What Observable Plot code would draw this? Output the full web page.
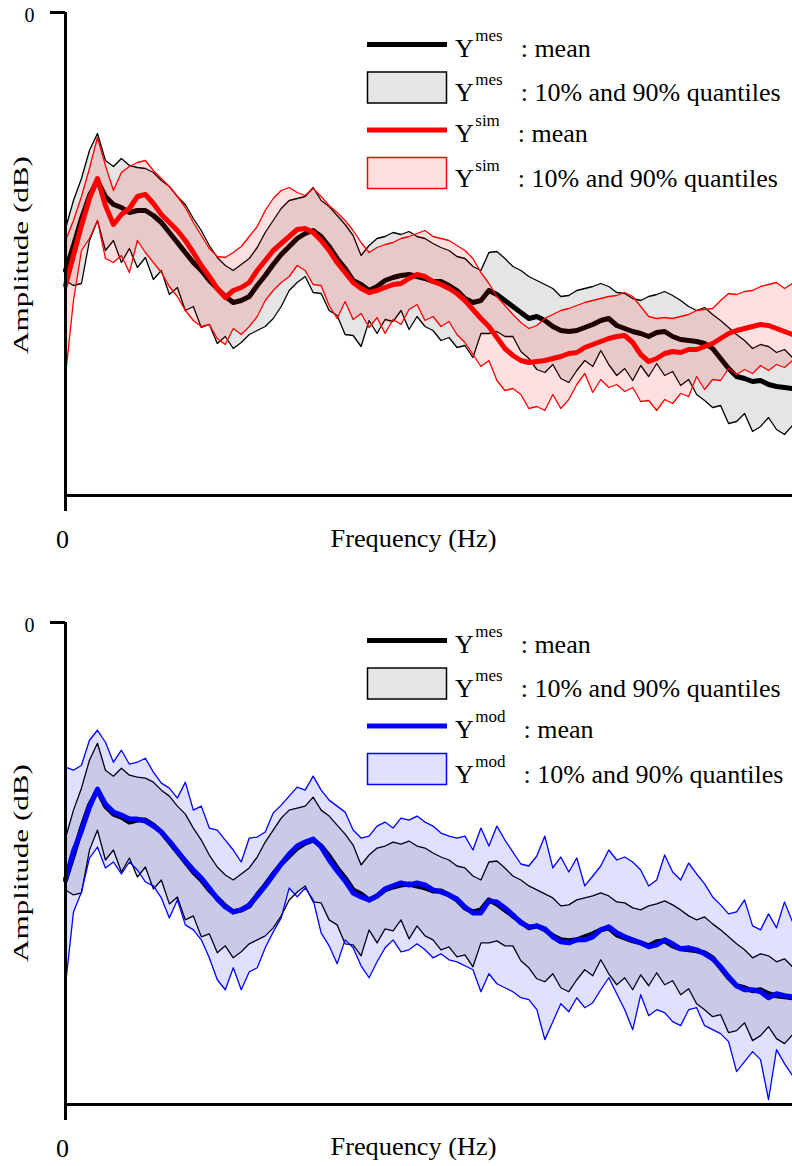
<!DOCTYPE html>
<html>
<head>
<meta charset="utf-8">
<script src="https://cdn.jsdelivr.net/npm/d3@7"></script>
<script src="https://cdn.jsdelivr.net/npm/@observablehq/plot@0.6"></script>
<style>
  body { margin: 0; background: #fff; }
  #wrap { position: relative; width: 792px; height: 1166px; overflow: hidden; font-family: "Liberation Serif", "Times New Roman", serif; }
  #wrap > svg { display: block; }
  #overlay { position: absolute; left: 0; top: 0; }
</style>
</head>
<body>
<div id="wrap"></div>
<script>
// Frequency grid (arbitrary Hz units, uniform sampling)
const freq = d3.range(92).map(i => i * 0.25);

// Measured response Y^mes (dB)
const mesMean = [
-51.6,-46.6,-41.2,-36.6,-33.6,-36.8,-38.4,-39,-40,-39.6,
-39.6,-40.6,-42,-44,-46,-48,-50,-51.6,-53.6,-55.2,
-56.8,-58,-57.6,-56.8,-54.6,-52.6,-50.4,-48.4,-46.8,-45.2,
-44.2,-43.6,-44.8,-46.8,-49.2,-51.2,-53.6,-54.4,-55.6,-54.8,
-53.6,-53,-52.6,-52.4,-52.8,-53.2,-53.8,-53.8,-54.6,-55.6,
-57.2,-58,-57.6,-55.6,-56.4,-57.6,-58.8,-60,-61.2,-60.8,
-61.6,-62.8,-63.6,-63.8,-63.6,-63,-62.4,-61.6,-61.2,-62.6,
-63.2,-63.8,-64.2,-64.8,-64,-63.8,-64.8,-65.4,-65.6,-65.8,
-66.2,-67.2,-69.2,-71.2,-72.8,-73.2,-73.8,-73.6,-74.4,-74.8,
-75,-75.2];
const mesUpper = [
-43.2,-37.6,-33.2,-27.6,-24.2,-29.6,-30.8,-29.2,-30.6,-31,
-31.2,-32,-33.6,-34.8,-36.8,-38.4,-41.2,-43.6,-46.6,-49,
-50.6,-51.6,-50.4,-49.2,-47,-44,-41.6,-39.2,-37.6,-37.2,
-36.8,-35,-37.6,-38.8,-40.6,-42.4,-44.6,-48.6,-46.6,-45.2,
-44.8,-44,-44.4,-43.8,-44.8,-45.2,-46.2,-47,-47.6,-48.8,
-49.2,-50.8,-51.6,-48,-47.8,-49.2,-50.8,-51.6,-52.8,-53.6,
-54.4,-55.2,-56.8,-56.6,-55.6,-55.2,-54.8,-54.2,-54.8,-56,
-56.2,-57.2,-57.6,-56.8,-56.4,-55.8,-56.6,-57.6,-58.8,-59.6,
-59,-60.4,-61.6,-63,-64.4,-65.6,-67.2,-66.4,-66.8,-68,
-67.4,-69];
const mesLower = [
-53.6,-54.6,-54.2,-45.6,-41.6,-47.6,-45.6,-50,-47.2,-51,
-49,-53.4,-51.6,-56.4,-55,-59.6,-58.8,-63,-62.4,-66.2,
-64.8,-67.2,-66,-64.4,-63.6,-62.8,-61.2,-58.8,-55.6,-54,
-52.8,-56,-56.2,-59.6,-60.6,-64.4,-64.6,-66.8,-61.6,-64.2,
-61.4,-61.8,-59.6,-63.4,-60.8,-62.8,-63.6,-65.6,-65,-67,
-66.6,-69,-64.2,-64.2,-63.8,-64.8,-64.8,-67.8,-69.2,-71.4,
-72,-70.4,-73.2,-74,-71.6,-69.6,-70.8,-67.6,-70.4,-72.6,
-71.2,-73.6,-70.6,-72.8,-70.2,-72.6,-71.8,-74.6,-73.4,-76.4,
-77.6,-79,-78.6,-82.2,-81.8,-80.2,-83.8,-82.8,-81,-83.4,
-84.4,-82.6];

// Simulated response Y^sim (dB)
const simMean = [
-54.6,-48.6,-42.6,-37.2,-33.2,-38.6,-42.4,-40.4,-39.2,-36.8,
-36.4,-38.2,-40.4,-42,-43.6,-45.6,-48,-50.6,-52.8,-55.2,
-57,-55.6,-55,-54,-51.6,-49.6,-47.6,-46.2,-44.8,-43.4,
-43.2,-44,-45.6,-47.6,-50,-52,-54,-55.2,-56,-55.6,
-55,-54.4,-54.2,-53.2,-52.4,-52.8,-53.8,-54.4,-55.2,-56.2,
-57.6,-59.4,-61.2,-62.8,-65,-67.2,-68.6,-69.6,-70,-69.8,
-69.6,-69.2,-68.8,-68.2,-68,-67,-66.4,-65.8,-65.2,-64.8,
-64.6,-66,-68.4,-69.8,-69.2,-68.2,-67.8,-68,-67.4,-67.4,
-66.8,-66.2,-65.2,-64.2,-63.6,-63.2,-62.8,-62.4,-62.6,-63.2,
-63.8,-64.4];
const simUpper = [
-45.6,-41.6,-36.8,-31.2,-25,-30.6,-35.6,-32,-30.8,-30,
-29.6,-31.6,-33.2,-34.8,-36.8,-39,-42,-44.6,-47.2,-48.8,
-49,-48,-46.8,-44.8,-42.8,-39.6,-37.2,-35.6,-35,-36,
-36.6,-35.2,-36.8,-38.6,-40,-41.6,-43.6,-46,-48,-47,
-46.4,-46,-45.2,-44.8,-44.2,-43.6,-44.8,-45.2,-45.6,-46.6,
-47.6,-49.2,-52,-54.2,-56.8,-58.6,-60.4,-62,-63.2,-62.6,
-61.2,-60.4,-59.6,-59.2,-58.6,-58,-57.6,-57.2,-56.8,-56.6,
-56,-56.8,-58.8,-60.8,-61.2,-61,-61.2,-60.8,-60.4,-59.6,
-59.4,-59.2,-57.6,-56.2,-56.4,-55.8,-55.6,-54.8,-54.4,-54,
-55.2,-54.2];
const simLower = [
-72.6,-57.6,-47.6,-45.2,-41.6,-49.2,-50,-48.6,-52,-45.6,
-48,-50,-52,-54.8,-56.8,-59.6,-61.6,-62.8,-62.4,-65.2,
-66.4,-63.2,-64.4,-62.8,-60.8,-57.6,-55.6,-54,-52.8,-50.6,
-51.6,-54.4,-54.6,-58.6,-61.2,-57.8,-61.4,-60.2,-63,-61,
-64.2,-61.4,-62.4,-59.4,-58.4,-61.6,-60.8,-62.8,-61.8,-64.4,
-66,-68.4,-70.8,-69.6,-73.6,-75.6,-75.2,-76.4,-79.2,-78.8,
-79.6,-76.4,-79.2,-77.4,-74.4,-72.2,-76,-73.4,-75,-74.4,
-75.8,-75,-77.8,-77.6,-79.6,-77.4,-78.2,-76.2,-76.8,-72.8,
-75.4,-73.4,-73.6,-71.2,-72.4,-71.4,-72.2,-70.6,-71.6,-70.4,
-71,-69.6];

// Model response Y^mod (dB)
const modMean = [
-51.6,-45.8,-41.8,-37,-33.4,-36.4,-38,-38.6,-39.4,-39.4,
-39.8,-40.8,-42,-43.8,-45.8,-47.8,-49.6,-51.2,-53.2,-55.4,
-57,-58,-57.6,-56.6,-54.8,-52.8,-50.6,-48.4,-46.4,-44.8,
-44,-43.4,-45,-47.6,-49.8,-51.8,-54.2,-55,-55.6,-54.8,
-53.4,-52.8,-52.2,-52.6,-52.2,-52.6,-53.6,-54,-54.6,-55.4,
-57,-58.2,-58.2,-55.8,-56,-57.2,-58.6,-60.2,-61,-60.8,
-61.4,-63,-64,-64.2,-63.6,-63.6,-63,-61.6,-61,-62.2,
-63,-63.6,-64.2,-65,-64.6,-63.6,-64.4,-65.4,-65.2,-65.6,
-66.4,-67.4,-69,-71,-72.8,-73.6,-73.6,-74,-75.2,-74.4,
-74.8,-75];
const modUpper = [
-29,-29.6,-28.6,-23.6,-21.6,-24,-28,-25.6,-28.4,-28,
-27.2,-30,-32.2,-33.2,-35.2,-32,-37.6,-36.8,-41.2,-41.6,
-43.6,-45.6,-48,-43.2,-43,-42,-38.2,-36.6,-34.8,-33,
-33.6,-30.8,-33.6,-35.6,-36.8,-38,-41.6,-43.2,-42.8,-40.8,
-40,-41.2,-39.2,-39.6,-38.8,-40,-40.8,-42.2,-42.8,-43.2,
-42.8,-45.6,-41.2,-44.8,-40.8,-43.6,-46,-48.4,-48.8,-46.8,
-42.8,-49.2,-47,-50,-47.2,-52.8,-50.8,-48.8,-45.6,-47.6,
-47,-48,-49.6,-52.8,-51.6,-46.6,-50,-51.6,-48.2,-50.4,
-52.4,-55,-56.6,-58.4,-58,-55.6,-60.8,-61.6,-58.4,-61.2,
-56,-60];
const modLower = [
-72.6,-58,-54,-47.2,-45,-49.2,-48,-50.4,-48,-49.6,
-52,-52.8,-55.2,-59.2,-55.6,-60.6,-61.6,-63.6,-67.2,-71.6,
-73.6,-69.2,-73.6,-70,-69.2,-65.2,-62,-59.2,-53.2,-55,
-53.2,-55.6,-62.2,-64.8,-68.4,-63.6,-65.2,-68.8,-71.2,-68,
-65.2,-63.6,-66,-65.6,-64.4,-65.6,-67.2,-66.4,-67.6,-68,
-68.8,-69.6,-74,-70.4,-72.4,-73.2,-74,-75.2,-75.6,-77.6,
-83.6,-80,-76.4,-78,-75.2,-77.2,-76.2,-73.6,-71.2,-74.4,
-77.6,-81.6,-74.6,-78.8,-77.6,-78.2,-80,-80.8,-77.6,-77.2,
-80.8,-81.6,-82.4,-84,-90,-88,-86,-87.6,-95.6,-85.6,
-88.4,-90.8];

// Tick labels, axis titles, legend texts
const yTickValues = [0];
const xTickValues = [0];
const yTitle = "Amplitude (dB)";
const xTitle = "Frequency (Hz)";
const legendRest = [": mean", ": 10% and 90% quantiles"];
const panels = [
  {name: "sim", color: "#ff0000", mean: simMean, upper: simUpper, lower: simLower},
  {name: "mod", color: "#0000ff", mean: modMean, upper: modUpper, lower: modLower}
];

const Y_MIN = -96.6, F_MAX = 22.75;
const FONT = '"Liberation Serif", "Times New Roman", serif';

function panelPlot(p, mt, mb) {
  const rows = freq.map((f, i) => ({
    f, mesLo: mesLower[i], mesHi: mesUpper[i], mesMean: mesMean[i],
    lo: p.lower[i], hi: p.upper[i], mean: p.mean[i]
  }));
  return Plot.plot({
    width: 792, height: 583,
    marginTop: mt, marginBottom: mb, marginLeft: 65, marginRight: 0,
    x: {domain: [0, F_MAX]},
    y: {domain: [Y_MIN, 0]},
    style: {fontFamily: FONT, background: "#fff", color: "#000", overflow: "visible"},
    marks: [
      Plot.areaY(rows, {x: "f", y1: "mesLo", y2: "mesHi", fill: "#000", fillOpacity: 0.1}),
      Plot.lineY(rows, {x: "f", y: "mesHi", stroke: "#000", strokeWidth: 1.3}),
      Plot.lineY(rows, {x: "f", y: "mesLo", stroke: "#000", strokeWidth: 1.3}),
      Plot.lineY(rows, {x: "f", y: "mesMean", stroke: "#000", strokeWidth: 5, strokeLinejoin: "round"}),
      Plot.areaY(rows, {x: "f", y1: "lo", y2: "hi", fill: p.color, fillOpacity: 0.12}),
      Plot.lineY(rows, {x: "f", y: "hi", stroke: p.color, strokeWidth: 1.3}),
      Plot.lineY(rows, {x: "f", y: "lo", stroke: p.color, strokeWidth: 1.3}),
      Plot.lineY(rows, {x: "f", y: "mean", stroke: p.color, strokeWidth: 5, strokeLinejoin: "round"}),
      Plot.ruleX([0], {y1: Y_MIN, y2: 0, stroke: "#000", strokeWidth: 3}),
      Plot.ruleY([Y_MIN], {x1: 0, x2: F_MAX, stroke: "#000", strokeWidth: 3}),
      Plot.axisY({ticks: yTickValues, tickSize: 15, strokeWidth: 3, tickFormat: () => "", label: null}),
      Plot.axisY({ticks: yTickValues, tickSize: 0, tickPadding: 31, dy: 3, fontSize: 20, tickFormat: d => String(d), label: null}),
      Plot.axisX({ticks: xTickValues, tickSize: 16, strokeWidth: 3, tickFormat: () => "", label: null}),
      Plot.axisX({ticks: xTickValues, tickSize: 0, tickPadding: 34, dx: -3, fontSize: 26, tickFormat: d => String(d), label: null})
    ]
  });
}

const wrap = document.getElementById("wrap");
wrap.appendChild(panelPlot(panels[0], 12, 88));
wrap.appendChild(panelPlot(panels[1], 39, 62));

// Overlay: axis titles and legends
const ov = d3.select(wrap).append("svg").attr("id", "overlay")
  .attr("width", 792).attr("height", 1166)
  .style("font-family", FONT);

function titles(offset) {
  ov.append("text")
    .attr("transform", `translate(27.5,${255 + offset}) rotate(-90)`)
    .attr("text-anchor", "middle").attr("font-size", 21)
    .attr("textLength", 198).attr("lengthAdjust", "spacingAndGlyphs")
    .text(yTitle);
  ov.append("text")
    .attr("x", 413.5).attr("y", 546.7 + offset)
    .attr("text-anchor", "middle").attr("font-size", 26)
    .attr("textLength", 166).attr("lengthAdjust", "spacingAndGlyphs")
    .text(xTitle);
}
titles(0);
titles(608);

function legend(offset, p) {
  const items = [
    {kind: "line", stroke: "#000", sup: "mes", rest: legendRest[0]},
    {kind: "rect", stroke: "#000", sup: "mes", rest: legendRest[1]},
    {kind: "line", stroke: p.color, sup: p.name, rest: legendRest[0]},
    {kind: "rect", stroke: p.color, sup: p.name, rest: legendRest[1]}
  ];
  const centers = [44.5, 87.5, 130, 173];
  const baselines = [56.5, 100.5, 142, 186.5];
  items.forEach((it, k) => {
    const cy = centers[k] + offset;
    if (it.kind === "line") {
      ov.append("line").attr("x1", 367).attr("x2", 447).attr("y1", cy).attr("y2", cy)
        .attr("stroke", it.stroke).attr("stroke-width", 5);
    } else {
      ov.append("rect").attr("x", 367.5).attr("y", cy - 15.5).attr("width", 79).attr("height", 31)
        .attr("fill", "#fff").attr("stroke", "none");
      ov.append("rect").attr("x", 367.5).attr("y", cy - 15.5).attr("width", 79).attr("height", 31)
        .attr("fill", it.stroke).attr("fill-opacity", it.stroke === "#000" ? 0.1 : 0.12)
        .attr("stroke", it.stroke).attr("stroke-width", 1.5);
    }
    const t = ov.append("text").attr("x", 455).attr("y", baselines[k] + offset).attr("font-size", 26);
    t.append("tspan").text("Y");
    t.append("tspan").attr("font-size", 17).attr("dx", 1.5).attr("dy", -16).text(it.sup);
    t.append("tspan").attr("dx", 18).attr("dy", 16).text(it.rest);
  });
}
legend(0, panels[0]);
legend(596, panels[1]);
</script>
</body>
</html>
